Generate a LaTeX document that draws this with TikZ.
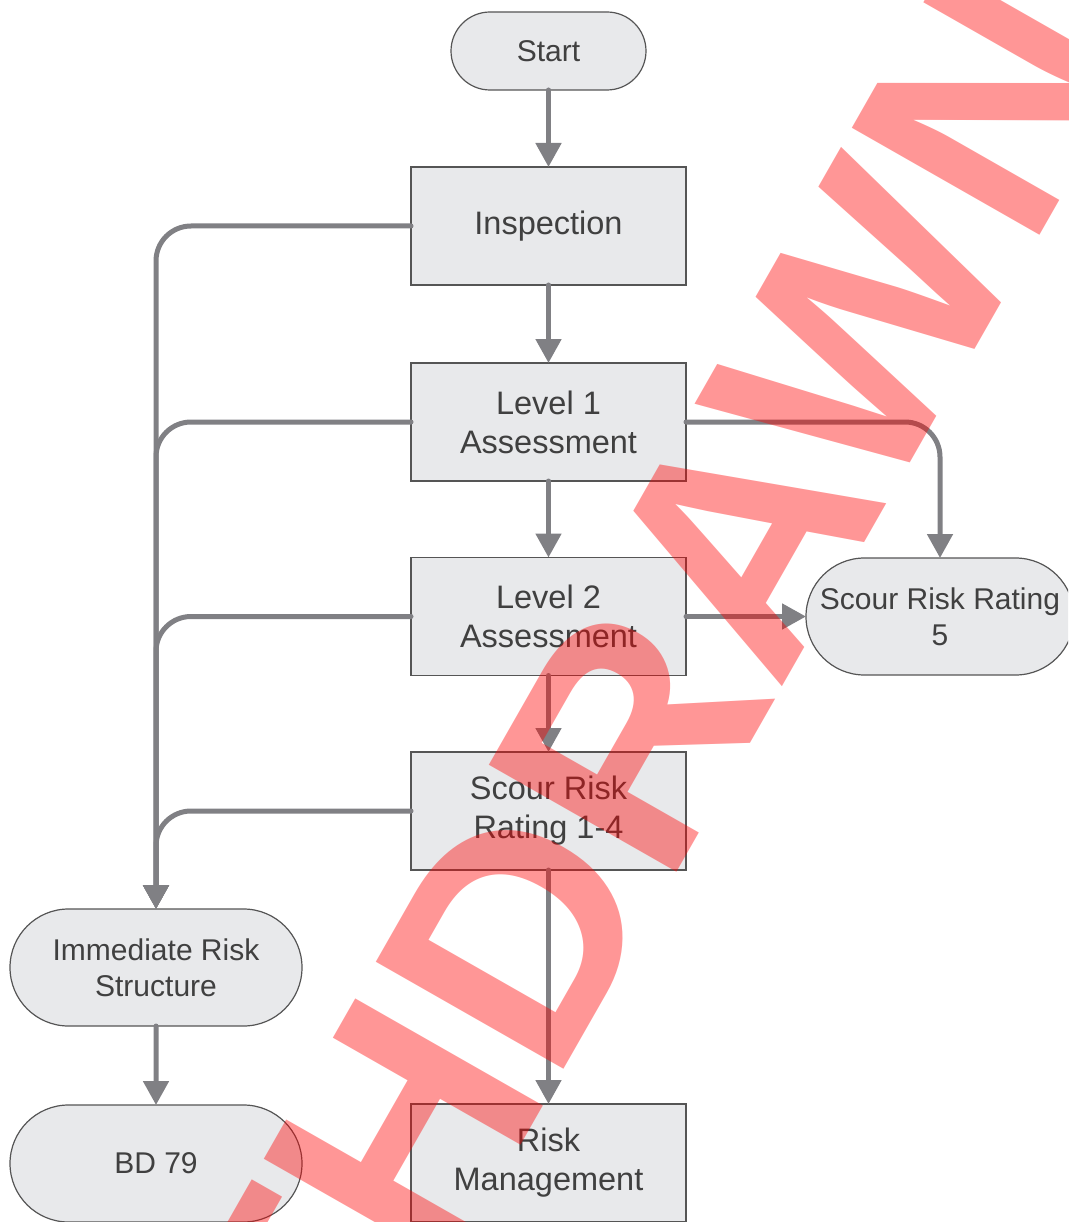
\documentclass[tikz,border=0pt]{standalone}
\usepackage{fontspec}
\setmainfont{Liberation Sans}
\usetikzlibrary{arrows.meta,shapes.misc}
\definecolor{boxfill}{RGB}{232,233,235}
\definecolor{boxline}{RGB}{85,85,85}
\definecolor{linkgray}{RGB}{128,128,132}
\definecolor{labeltext}{RGB}{64,64,64}
\tikzset{
  procbox/.style={rectangle, draw=boxline, line width=1.2pt, fill=boxfill,
    minimum width=275pt, minimum height=118pt, inner sep=0pt, outer sep=0pt,
    align=center, text=labeltext, font=\fontsize{32.5}{39}\selectfont},
  termbox/.style={rounded rectangle, draw=boxline, line width=1.2pt, fill=boxfill,
    minimum height=117pt, inner sep=0pt, outer sep=0pt,
    align=center, text=labeltext, font=\fontsize{30}{36}\selectfont},
  link/.style={draw=linkgray, line width=5pt, line cap=round,
    -{Triangle[length=24pt,width=25pt]}},
  elbowlink/.style={link, rounded corners=35pt},
  stamp/.style={text=red, text opacity=0.41, inner sep=0pt,
    font=\fontsize{314}{314}\selectfont\bfseries}
}
\begin{document}
\begin{tikzpicture}[x=1pt,y=-1pt]
\useasboundingbox (0,0) rectangle (1068,1222);
\clip (0,0) rectangle (1068,1222);

% process steps
\node[termbox, minimum width=195pt, minimum height=78pt] (start) at (548.5,51) {Start};
\node[procbox] (insp) at (548.5,226) {Inspection};
\node[procbox] (lvl1) at (548.5,422) {Level 1\\Assessment};
\node[procbox] (lvl2) at (548.5,616.5) {Level 2\\Assessment};
\node[procbox] (srr14) at (548.5,811) {Scour Risk\\Rating 1-4};
\node[procbox] (riskm) at (548.5,1163) {Risk\\Management};

% outcomes
\node[termbox, minimum width=268pt] (srr5) at (940,616.5) {Scour Risk Rating\\5};
\node[termbox, minimum width=292pt] (immed) at (156,967.5) {Immediate Risk\\Structure};
\node[termbox, minimum width=292pt] (bd79) at (156,1163.5) {BD 79};

% main flow
\draw[link] (start) -- (insp);
\draw[link] (insp) -- (lvl1);
\draw[link] (lvl1) -- (lvl2);
\draw[link] (lvl2) -- (srr14);
\draw[link] (srr14) -- (riskm);
\draw[link] (immed) -- (bd79);

% escalation to immediate risk
\draw[elbowlink] (insp.west) -| (immed.north);
\draw[elbowlink] (lvl1.west) -| (immed.north);
\draw[elbowlink] (lvl2.west) -| (immed.north);
\draw[elbowlink] (srr14.west) -| (immed.north);

% rating 5 branches
\draw[elbowlink] (lvl1.east) -| (srr5.north);
\draw[link] (lvl2.east) -- (srr5.west);

% status stamp
\node[stamp, rotate=60.3] (stampmark) at (555,867) {WITHDRAWN};
\end{tikzpicture}
\end{document}
